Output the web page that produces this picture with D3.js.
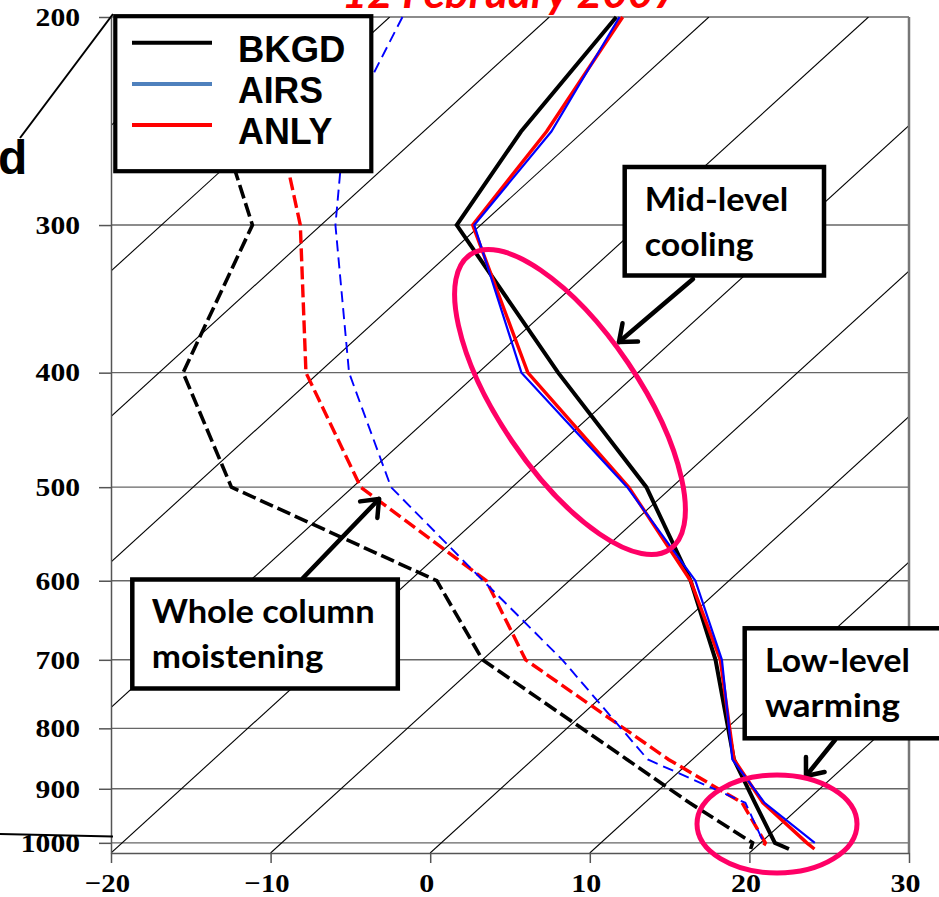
<!DOCTYPE html>
<html>
<head>
<meta charset="utf-8">
<script src="https://cdn.jsdelivr.net/npm/d3@7"></script>
<style>
  body { margin: 0; background: #fff; }
  svg { display: block; }
</style>
</head>
<body>
<script>
// Skew-T comparison of BKGD / AIRS / ANLY soundings, 12 February 2007

const width = 939, height = 897;
const plot = {left: 111, right: 909, top: 17, bottom: 853};
const skew = 1.097; // px right per px up

// pressure levels (hPa) and soundings (deg C); null = no value at that level
const pressure = [200, 250, 300, 400, 500, 600, 700, 850, 925, 1000, 1012];
const bkgdT  = [-45.8, -43.9, -41.5, -25.0, -11.6, -2.4, 4.6, 12.6, 16.9, 20.9, 22.2];
const bkgdTd = [-71.0, -62.6, -54.3, -48.5, -37.6, -18.3, -10.0, 5.9, 12.8, 19.5, 19.8];
const airsT  = [-45.6, -42.0, -40.4, -27.3, -12.8, -2.1, 5.0, 12.5, 17.5, 23.4, null];
const airsTd = [-59.2, -55.0, -49.1, -38.1, -27.6, -15.4, -5.0, 7.2, 16.3, 20.2, null];
const anlyT  = [-45.4, -42.3, -40.5, -26.9, -12.7, -2.4, 4.9, 12.6, 17.4, 22.9, 23.8];
const anlyTd = [-67.5, -59.0, -51.3, -40.8, -29.5, -15.2, -7.3, 8.5, 16.1, 20.3, 20.5];

const pTicks = [200, 300, 400, 500, 600, 700, 800, 900, 1000];
const tTicks = [-20, -10, 0, 10, 20, 30];
const isotherms = d3.range(-110, 31, 10);
const legendNames = ["BKGD", "AIRS", "ANLY"];
const legendColors = ["#000000", "#4f81bd", "#ff0000"];
const title = "12 February 2007";

const svg = d3.select("body")
    .append("svg")
    .attr("width", width)
    .attr("height", height);

// scales
const x = d3.scaleLinear().domain([-20, 30]).range([plot.left, plot.right]);
const y = d3.scaleLog().domain([200, 1020]).range([plot.top, plot.bottom]);
const skewX = (t, p) => x(t) + skew * (plot.bottom - y(p));

svg.append("defs").append("clipPath")
    .attr("id", "plotclip")
  .append("rect")
    .attr("x", plot.left).attr("y", plot.top)
    .attr("width", plot.right - plot.left)
    .attr("height", plot.bottom - plot.top);

// horizontal grid lines
svg.append("g")
  .selectAll("line")
  .data(pTicks)
  .enter().append("line")
    .attr("x1", plot.left).attr("x2", plot.right)
    .attr("y1", d => y(d)).attr("y2", d => y(d))
    .attr("stroke", "#666").attr("stroke-width", 1.4);

// skewed isotherms
svg.append("g")
    .attr("clip-path", "url(#plotclip)")
  .selectAll("line")
  .data(isotherms)
  .enter().append("line")
    .attr("x1", d => x(d)).attr("y1", plot.bottom)
    .attr("x2", d => x(d) + skew * (plot.bottom - plot.top)).attr("y2", plot.top)
    .attr("stroke", "#000").attr("stroke-width", 1.1);

// right border
svg.append("line")
    .attr("x1", plot.right).attr("x2", plot.right)
    .attr("y1", plot.top).attr("y2", plot.bottom)
    .attr("stroke", "#777").attr("stroke-width", 2.5);

// y axis
svg.append("g")
    .attr("transform", `translate(${plot.left},0)`)
    .call(d3.axisLeft(y).tickValues(pTicks).tickSize(12).tickSizeOuter(0)
      .tickPadding(19).tickFormat(d3.format("d")))
    .call(g => g.selectAll("path, line").attr("stroke", "#555").attr("stroke-width", 1.5))
    .call(g => g.selectAll("text")
      .attr("fill", "#000")
      .attr("font-family", "Liberation Serif, serif")
      .attr("font-weight", "bold")
      .attr("font-size", 26)
      .attr("textLength", d => String(d).length * 14.8)
      .attr("lengthAdjust", "spacingAndGlyphs"));

// x axis
svg.append("g")
    .attr("transform", `translate(0,${plot.bottom})`)
    .call(d3.axisBottom(x).tickValues(tTicks).tickSize(10).tickSizeOuter(0)
      .tickPadding(10.5).tickFormat(d3.format("d")))
    .call(g => g.selectAll("path, line").attr("stroke", "#555").attr("stroke-width", 1.5))
    .call(g => g.selectAll("text")
      .attr("fill", "#000")
      .attr("dx", -4)
      .attr("font-family", "Liberation Serif, serif")
      .attr("font-weight", "bold")
      .attr("font-size", 26)
      .attr("textLength", d => d3.format("d")(d).length * 15)
      .attr("lengthAdjust", "spacingAndGlyphs"));

// soundings
const series = [
  {T: bkgdT, Td: bkgdTd, color: "#000000", wT: 4, wTd: 3.6, dash: "14,5"},
  {T: anlyT, Td: anlyTd, color: "#ff0000", wT: 3.4, wTd: 3.4, dash: "13,5"},
  {T: airsT, Td: airsTd, color: "#0000ff", wT: 2.2, wTd: 1.9, dash: "11,6"}
];

const line = d3.line()
    .defined(d => d.t != null)
    .x(d => skewX(d.t, d.p))
    .y(d => y(d.p));

series.forEach(s => {
  const tPts = pressure.map((p, i) => ({p: p, t: s.T[i]}));
  const dPts = pressure.map((p, i) => ({p: p, t: s.Td[i]}));
  svg.append("path")
      .datum(dPts)
      .attr("d", line)
      .attr("fill", "none")
      .attr("stroke", s.color)
      .attr("stroke-width", s.wTd)
      .attr("stroke-dasharray", s.dash);
  svg.append("path")
      .datum(tPts)
      .attr("d", line)
      .attr("fill", "none")
      .attr("stroke", s.color)
      .attr("stroke-width", s.wT)
      .attr("stroke-linejoin", "miter");
});

// legend
const legend = svg.append("g");
legend.append("rect")
    .attr("x", 115.3).attr("y", 16.2)
    .attr("width", 256).attr("height", 155)
    .attr("fill", "#fff").attr("stroke", "#000").attr("stroke-width", 4.2);
const legendLen = [107.4, 85, 94.3];
legendNames.forEach((name, i) => {
  const ly = 42.7 + i * 41.2;
  legend.append("line")
      .attr("x1", 132).attr("x2", 212)
      .attr("y1", ly).attr("y2", ly)
      .attr("stroke", legendColors[i]).attr("stroke-width", 4);
  legend.append("text")
      .attr("x", 238).attr("y", ly + 19)
      .attr("font-family", "Liberation Sans, Arial, sans-serif")
      .attr("font-weight", "bold").attr("font-size", 36.5)
      .attr("textLength", legendLen[i]).attr("lengthAdjust", "spacingAndGlyphs")
      .text(name);
});

// title (cut off at the top in the source)
svg.append("text")
    .attr("x", 341.7).attr("y", 8)
    .attr("fill", "#ff0000")
    .attr("font-family", "Lato, sans-serif")
    .attr("font-weight", "bold").attr("font-style", "italic")
    .attr("font-size", 42)
    .attr("textLength", 337).attr("lengthAdjust", "spacingAndGlyphs")
    .text(title);

// leftovers of the neighbouring figure
svg.append("line")
    .attr("x1", 113).attr("y1", 14).attr("x2", 20).attr("y2", 138)
    .attr("stroke", "#000").attr("stroke-width", 2);
svg.append("text")
    .attr("x", -2).attr("y", 174)
    .attr("font-family", "Liberation Sans, Arial, sans-serif")
    .attr("font-weight", "bold").attr("font-size", 48)
    .text("d");
svg.append("line")
    .attr("x1", 0).attr("y1", 834).attr("x2", 113).attr("y2", 836.5)
    .attr("stroke", "#000").attr("stroke-width", 2);

// annotation boxes
const boxes = [
  {x: 624.7, y: 167, w: 199.3, h: 108.5, lines: ["Mid-level", "cooling"], tx: 644.7, ty: [210.7, 256], len: [143.6, 109]},
  {x: 132.3, y: 579.5, w: 265.5, h: 109, lines: ["Whole column", "moistening"], tx: 151.7, ty: [623.3, 668.3], len: [223, 171.7]},
  {x: 744.7, y: 628.3, w: 230, h: 110, lines: ["Low-level", "warming"], tx: 765, ty: [671.7, 716.7], len: [145, 135]}
];

boxes.forEach(b => {
  svg.append("rect")
      .attr("x", b.x).attr("y", b.y).attr("width", b.w).attr("height", b.h)
      .attr("fill", "#fff").attr("stroke", "#000").attr("stroke-width", 4.5);
  b.lines.forEach((t, i) => {
    svg.append("text")
        .attr("x", b.tx).attr("y", b.ty[i])
        .attr("font-family", "Lato, sans-serif")
        .attr("font-weight", "bold").attr("font-size", 32)
        .attr("textLength", b.len[i]).attr("lengthAdjust", "spacingAndGlyphs")
        .text(t);
  });
});

// arrows from boxes
function arrow(x1, y1, x2, y2) {
  const a = Math.atan2(y2 - y1, x2 - x1);
  const len = 19, spread = 0.68;
  const g = svg.append("g")
      .attr("stroke", "#000").attr("stroke-width", 4.5)
      .attr("fill", "none").attr("stroke-linecap", "round").attr("stroke-linejoin", "round");
  g.append("line").attr("x1", x1).attr("y1", y1).attr("x2", x2).attr("y2", y2);
  g.append("path").attr("d",
    `M${x2 - len * Math.cos(a - spread)},${y2 - len * Math.sin(a - spread)}` +
    `L${x2},${y2}` +
    `L${x2 - len * Math.cos(a + spread)},${y2 - len * Math.sin(a + spread)}`);
}
arrow(693, 279, 619, 342);
arrow(303, 578, 379, 499);
arrow(835, 740, 806, 776);

// highlight ellipses
svg.append("ellipse")
    .attr("transform", "translate(570,402) rotate(55.9)")
    .attr("rx", 178).attr("ry", 70)
    .attr("fill", "none").attr("stroke", "#ff0066").attr("stroke-width", 5);
svg.append("ellipse")
    .attr("cx", 777).attr("cy", 824)
    .attr("rx", 80).attr("ry", 49)
    .attr("fill", "none").attr("stroke", "#ff0066").attr("stroke-width", 5);
</script>
</body>
</html>
